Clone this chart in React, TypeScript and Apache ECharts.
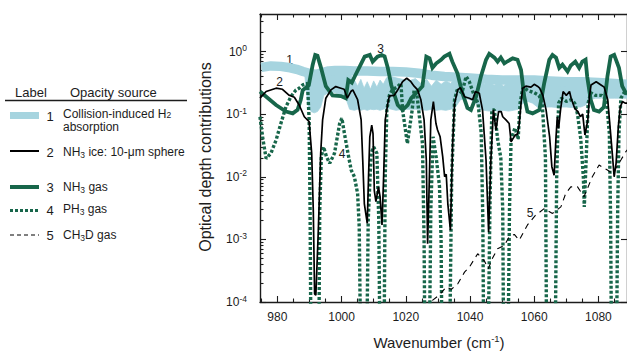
import React, { useEffect, useRef } from "react";
import * as echarts from "echarts";

// ---------- data (wavenumber in cm^-1, optical depth) ----------
const H2_X = [975, 978, 981, 984, 986, 988, 990, 992, 994, 996, 998, 1001, 1004, 1008, 1012, 1016, 1020, 1024, 1028, 1032, 1036, 1040, 1045, 1050, 1055, 1060, 1065, 1070, 1075, 1080, 1085, 1089];
const H2_Y = [0.56, 0.59, 0.58, 0.55, 0.52, 0.48, 0.45, 0.43, 0.46, 0.49, 0.5, 0.5, 0.49, 0.49, 0.48, 0.48, 0.47, 0.45, 0.42, 0.4, 0.39, 0.38, 0.36, 0.35, 0.35, 0.35, 0.34, 0.33, 0.33, 0.32, 0.31, 0.3];

const BAND_X = [988.5, 989.5, 990.5, 991.5, 992.5, 993.5, 994.5, 996, 998, 1000, 1001.5, 1002.5, 1004, 1005, 1006, 1007, 1008, 1009, 1010, 1011, 1012, 1013, 1014, 1015.5, 1017, 1019, 1021, 1023, 1025, 1026.5, 1028, 1029.5, 1031, 1032.5, 1034, 1035.5, 1037, 1038.5, 1040, 1041.5, 1043, 1044.5, 1046, 1047.5, 1049, 1050.5, 1052, 1053.5, 1055, 1056.5, 1058, 1059.5, 1061, 1062.5, 1064, 1065.5, 1067, 1068.5, 1070, 1071.5, 1073, 1074.5, 1076, 1077.5, 1079, 1080.5, 1082, 1083.5, 1085, 1086.5, 1088, 1089];
const BAND_LOW = [0.44, 0.14, 0.11, 0.105, 0.11, 0.13, 0.2, 0.22, 0.22, 0.2, 0.17, 0.12, 0.115, 0.12, 0.115, 0.12, 0.115, 0.12, 0.118, 0.12, 0.115, 0.12, 0.125, 0.12, 0.115, 0.12, 0.12, 0.12, 0.118, 0.115, 0.12, 0.115, 0.118, 0.115, 0.12, 0.13, 0.17, 0.18, 0.17, 0.16, 0.12, 0.115, 0.112, 0.115, 0.11, 0.115, 0.112, 0.115, 0.12, 0.15, 0.16, 0.15, 0.13, 0.13, 0.13, 0.13, 0.128, 0.13, 0.13, 0.128, 0.13, 0.13, 0.14, 0.17, 0.18, 0.18, 0.185, 0.18, 0.18, 0.18, 0.18, 0.18];
const BAND_HIGH = [0.46, 0.44, 0.42, 0.4, 0.42, 0.45, 0.47, 0.5, 0.5, 0.48, 0.47, 0.45, 0.35, 0.28, 0.36, 0.26, 0.33, 0.25, 0.34, 0.27, 0.35, 0.3, 0.38, 0.4, 0.38, 0.36, 0.34, 0.37, 0.3, 0.36, 0.28, 0.35, 0.3, 0.34, 0.31, 0.38, 0.42, 0.38, 0.42, 0.37, 0.35, 0.3, 0.34, 0.29, 0.33, 0.28, 0.34, 0.3, 0.35, 0.37, 0.3, 0.36, 0.31, 0.35, 0.3, 0.34, 0.29, 0.33, 0.3, 0.34, 0.3, 0.33, 0.3, 0.34, 0.31, 0.35, 0.3, 0.33, 0.3, 0.32, 0.3, 0.31];

const NH3ICE_X = [974.6, 976.5, 979.6, 981.6, 983.7, 985.3, 986.8, 988.4, 989.9, 990.7, 991.2, 991.6, 992, 992.8, 993.5, 994.1, 995.1, 996.7, 998.2, 999.8, 1000.8, 1001.8, 1002.9, 1003.5, 1005, 1006.1, 1006.6, 1007.1, 1008, 1008.4, 1008.8, 1009.4, 1009.8, 1010.2, 1010.7, 1011.5, 1012, 1012.6, 1013.1, 1013.6, 1014.4, 1014.9, 1016.4, 1017.5, 1019, 1020.3, 1021.6, 1022.6, 1023.7, 1024.7, 1025.7, 1026.4, 1026.8, 1027.2, 1027.8, 1028.6, 1029.4, 1029.9, 1030.7, 1031.5, 1032.1, 1032.6, 1033.1, 1033.9, 1034.6, 1035.2, 1036.2, 1037, 1038.3, 1039.8, 1040.8, 1041.7, 1042.9, 1043.9, 1045, 1045.8, 1046.5, 1047.3, 1048.1, 1048.9, 1049.7, 1050.2, 1051.2, 1052.2, 1052.8, 1053.3, 1054.1, 1054.8, 1055.3, 1055.9, 1056.4, 1057.4, 1059, 1060, 1061, 1061.7, 1062.7, 1063.7, 1064.8, 1065.5, 1066.2, 1066.8, 1067.2, 1067.6, 1068.2, 1069, 1070, 1071, 1071.5, 1072.6, 1073.6, 1074.4, 1075.1, 1075.8, 1076.7, 1077.2, 1077.7, 1079.3, 1080.8, 1081.8, 1082.9, 1083.7, 1084.4, 1084.9, 1085.5, 1086.2, 1086.8, 1087.5, 1088.3, 1089];
const NH3ICE_Y = [0.18, 0.23, 0.26, 0.25, 0.2, 0.186, 0.14, 0.091, 0.076, 0.0237, 0.0029, 0.000135, 0.000128, 0.00158, 0.0237, 0.081, 0.18, 0.244, 0.276, 0.26, 0.25, 0.18, 0.23, 0.244, 0.17, 0.081, 0.0184, 0.0037, 0.0018, 0.01, 0.0435, 0.067, 0.049, 0.006, 0.004, 0.0069, 0.0048, 0.0017, 0.01, 0.081, 0.149, 0.196, 0.2, 0.244, 0.33, 0.375, 0.33, 0.28, 0.244, 0.17, 0.081, 0.0184, 0.00085, 0.0048, 0.081, 0.159, 0.071, 0.056, 0.0435, 0.021, 0.01, 0.011, 0.0037, 0.0014, 0.034, 0.149, 0.244, 0.266, 0.19, 0.18, 0.17, 0.23, 0.216, 0.117, 0.0184, 0.0013, 0.0184, 0.117, 0.056, 0.11, 0.11, 0.091, 0.081, 0.071, 0.036, 0.04, 0.0465, 0.048, 0.067, 0.149, 0.26, 0.28, 0.27, 0.3, 0.28, 0.26, 0.2, 0.117, 0.0435, 0.0145, 0.0106, 0.0435, 0.091, 0.059, 0.117, 0.23, 0.2, 0.23, 0.18, 0.124, 0.11, 0.091, 0.1, 0.0465, 0.081, 0.19, 0.293, 0.33, 0.293, 0.27, 0.17, 0.056, 0.021, 0.01, 0.0164, 0.063, 0.13, 0.159, 0.15, 0.15];

const NH3GAS_X = [974.6, 979.6, 982.7, 984.8, 986.3, 987.3, 987.9, 989.8, 991, 991.8, 992.5, 993.5, 995.1, 997.2, 999.8, 1001.3, 1002.1, 1003.2, 1004.1, 1007.2, 1008.8, 1009.7, 1011.2, 1012.5, 1013.4, 1014.4, 1015.5, 1017.5, 1019, 1020.6, 1021.7, 1023.7, 1025.2, 1026.4, 1027.4, 1028.3, 1029.5, 1031, 1032, 1033.6, 1034.5, 1036.1, 1037.6, 1039.2, 1040.3, 1041.9, 1043.4, 1045, 1046, 1047.6, 1048.6, 1049.6, 1050.7, 1051.7, 1053.3, 1054.8, 1055.9, 1056.9, 1057.9, 1059.5, 1061.6, 1063.1, 1064.7, 1065.7, 1066.8, 1067.8, 1068.8, 1070.4, 1071.4, 1072.8, 1074, 1075, 1076, 1076.5, 1077.6, 1078.6, 1080.2, 1081.7, 1082.8, 1083.8, 1084.9, 1086.4, 1087.4, 1088.5, 1089];
const NH3GAS_Y = [0.23, 0.14, 0.11, 0.103, 0.117, 0.17, 0.24, 0.29, 0.61, 0.885, 0.86, 0.575, 0.28, 0.2, 0.195, 0.18, 0.35, 0.32, 0.4, 0.83, 0.885, 0.69, 0.83, 0.88, 0.84, 0.55, 0.29, 0.14, 0.117, 0.14, 0.18, 0.23, 0.28, 0.83, 0.78, 0.55, 0.65, 0.74, 0.83, 0.92, 0.69, 0.45, 0.22, 0.126, 0.117, 0.19, 0.4, 0.74, 0.92, 0.8, 0.69, 0.8, 0.65, 0.7, 0.78, 0.74, 0.51, 0.19, 0.11, 0.103, 0.117, 0.31, 0.74, 0.885, 0.8, 0.55, 0.62, 0.48, 0.6, 0.69, 0.55, 0.69, 0.74, 0.4, 0.17, 0.117, 0.11, 0.13, 0.4, 0.83, 0.885, 0.55, 0.28, 0.22, 0.21];

const PH3_X = [974.6, 975.4, 976.5, 978, 979.6, 981.1, 982.7, 984.2, 985.8, 986.8, 987.9, 989.4, 989.9, 990.2, 990.5, 992.9, 993.2, 993.7, 994.4, 995.3, 996.3, 997.8, 999.4, 1000.1, 1000.9, 1002, 1003, 1004, 1005, 1005.5, 1006, 1007.8, 1008.3, 1009.2, 1010, 1011, 1011.6, 1012, 1013.2, 1013.6, 1014.1, 1014.9, 1015.8, 1017.5, 1018.5, 1019, 1020.5, 1022, 1022.6, 1023.5, 1025.2, 1025.7, 1026, 1027.3, 1027.8, 1028.5, 1029.5, 1030.5, 1031, 1031.3, 1033.6, 1034.3, 1035.2, 1036, 1037.5, 1038.8, 1039.8, 1041, 1042.5, 1043.5, 1044, 1044.3, 1045.6, 1046.2, 1046.8, 1047.6, 1048.6, 1049.6, 1050.2, 1050.5, 1051.8, 1052.3, 1052.8, 1054, 1055, 1055.6, 1056.5, 1058, 1060, 1061.5, 1062.5, 1063.5, 1063.9, 1066.5, 1067, 1067.6, 1068.5, 1070, 1071.5, 1072.6, 1073.5, 1074.5, 1075.3, 1075.6, 1076.2, 1076.8, 1077.6, 1079, 1081, 1082.5, 1083.4, 1083.8, 1084.1, 1085.6, 1086, 1086.4, 1087, 1088, 1089];
const PH3_Y = [0.091, 0.0435, 0.0196, 0.0237, 0.0385, 0.071, 0.132, 0.19, 0.244, 0.26, 0.293, 0.31, 0.081, 0.0029, 0.00001, 0.00001, 0.0029, 0.021, 0.03, 0.021, 0.0164, 0.0237, 0.071, 0.086, 0.049, 0.0237, 0.0128, 0.01, 0.0054, 0.0016, 0.00001, 0.00001, 0.002, 0.0237, 0.03, 0.0237, 0.002, 0.00001, 0.00001, 0.01, 0.117, 0.2, 0.244, 0.276, 0.31, 0.117, 0.034, 0.117, 0.244, 0.2, 0.034, 0.001, 0.00001, 0.00001, 0.003, 0.0435, 0.02, 0.007, 0.001, 0.00001, 0.00001, 0.01, 0.17, 0.244, 0.22, 0.4, 0.33, 0.22, 0.15, 0.05, 0.002, 0.00001, 0.00001, 0.003, 0.117, 0.117, 0.04, 0.02, 0.003, 0.00001, 0.00001, 0.003, 0.04, 0.06, 0.04, 0.15, 0.27, 0.24, 0.22, 0.2, 0.15, 0.02, 0.00001, 0.00001, 0.01, 0.15, 0.18, 0.16, 0.17, 0.15, 0.1, 0.04, 0.01, 0.0033, 0.02, 0.15, 0.22, 0.2, 0.2, 0.17, 0.05, 0.002, 0.00001, 0.00001, 0.003, 0.05, 0.18, 0.22, 0.22];

const CH3D_X = [1025.8, 1028.4, 1030.5, 1032.6, 1034.2, 1036.2, 1038.3, 1039.8, 1042.4, 1044.5, 1045.7, 1047, 1048.6, 1050.7, 1052.2, 1053.8, 1055.3, 1057.9, 1060.3, 1063.1, 1065.7, 1068.3, 1069.8, 1071.4, 1073.5, 1075.5, 1078.1, 1080.2, 1082.8, 1084.4, 1087, 1088.5, 1089];
const CH3D_Y = [0.00008, 0.000107, 0.00013, 0.000174, 0.00016, 0.000195, 0.0003, 0.00036, 0.00059, 0.00045, 0.00034, 0.0005, 0.00071, 0.0008, 0.0011, 0.0012, 0.00097, 0.0017, 0.0024, 0.0031, 0.0026, 0.0033, 0.0054, 0.0069, 0.0069, 0.0048, 0.01, 0.0154, 0.0128, 0.0113, 0.0185, 0.025, 0.027];

const X_LABELS = [980, 1000, 1020, 1040, 1060, 1080];
const Y_DECADES = [-4, -3, -2, -1, 0];

// ---------- styling ----------
const FONT = '"Liberation Sans", Arial, Helvetica, sans-serif';
const BLUE = "#a6d4df";
const GREEN = "#17664a";
const INK = "#1c1c1c";
const XMIN = 974.6;
const XMAX = 1088.9;
const YMIN = -4;
const YMAX = 0.6;

const lg = (v: number) => Math.log10(v);
const zip = (xs: number[], ys: number[]) => xs.map((x, i) => [x, lg(ys[i])]);

const minorX: number[] = [];
for (let v = 975; v <= 1085; v += 5) if (X_LABELS.indexOf(v) < 0) minorX.push(v);
const minorY: number[] = [];
for (let n = -4; n <= 0; n++) for (let k = 2; k <= 9; k++) { const t = n + Math.log10(k); if (t < YMAX) minorY.push(t); }

export default function App() {
  const ref = useRef<HTMLDivElement>(null);
  useEffect(() => {
    const chart = echarts.init(ref.current as HTMLDivElement, null, { renderer: "svg" });
    const axisLine = { show: true, onZero: false, lineStyle: { color: INK, width: 1.4 } };
    const noLine = { show: false, onZero: false };
    const tickStyle = { color: INK, width: 1.1 };
    const bandData = BAND_X.map((x, i) => [x, lg(BAND_LOW[i]), lg(BAND_HIGH[i])]);
    const lineBase = { type: "line", symbol: "none", showSymbol: false, clip: true, silent: true, xAxisIndex: 0, yAxisIndex: 0 };

    const sub = (t: string) => `{b|${t}}`;
    const legendText = (x: number, y: number, text: string, lh = 15) => ({
      type: "text", x, y,
      style: {
        text, fill: INK, fontSize: 12, fontFamily: FONT, align: "left", verticalAlign: "middle",
        rich: {
          b: { fontSize: 12, fontFamily: FONT, lineHeight: lh, fill: INK },
          s: { fontSize: 8.5, fontFamily: FONT, lineHeight: 7, verticalAlign: "bottom", fill: INK },
        },
      },
    });
    const numText = (x: number, y: number, t: string, size = 13) => ({
      type: "text", x, y,
      style: { text: t, fill: INK, fontSize: size, fontFamily: FONT, align: "center", verticalAlign: "middle" },
    });

    const option: any = {
      animation: false,
      backgroundColor: "#ffffff",
      textStyle: { fontFamily: FONT },
      grid: { left: 260, top: 14, width: 368, height: 288, containLabel: false },
      xAxis: [
        { type: "value", position: "bottom", min: XMIN, max: XMAX, axisLine,
          axisTick: { show: true, inside: true, length: 6, customValues: X_LABELS, lineStyle: tickStyle },
          axisLabel: { show: true, customValues: X_LABELS, color: INK, fontSize: 12, fontFamily: FONT, margin: 9, formatter: (v: number) => String(Math.round(v)) },
          splitLine: { show: false } },
        { type: "value", position: "bottom", min: XMIN, max: XMAX, axisLine: noLine,
          axisTick: { show: true, inside: true, length: 3.5, customValues: minorX, lineStyle: tickStyle },
          axisLabel: { show: false }, splitLine: { show: false } },
        { type: "value", position: "top", min: XMIN, max: XMAX, axisLine,
          axisTick: { show: true, inside: true, length: 6, customValues: X_LABELS, lineStyle: tickStyle },
          axisLabel: { show: false }, splitLine: { show: false } },
        { type: "value", position: "top", min: XMIN, max: XMAX, axisLine: noLine,
          axisTick: { show: true, inside: true, length: 3.5, customValues: minorX, lineStyle: tickStyle },
          axisLabel: { show: false }, splitLine: { show: false } },
      ],
      yAxis: [
        { type: "value", position: "left", min: YMIN, max: YMAX, axisLine,
          axisTick: { show: true, inside: true, length: 6, customValues: Y_DECADES, lineStyle: tickStyle },
          axisLabel: {
            show: true, customValues: Y_DECADES, margin: 13,
            formatter: (v: number) => `{b|10}{s|${Math.round(v)}}`,
            rich: {
              b: { fontSize: 12, fontFamily: FONT, color: INK, lineHeight: 16 },
              s: { fontSize: 8.5, fontFamily: FONT, color: INK, lineHeight: 8, verticalAlign: "top" },
            },
          },
          splitLine: { show: false } },
        { type: "value", position: "left", min: YMIN, max: YMAX, axisLine: noLine,
          axisTick: { show: true, inside: true, length: 3.5, customValues: minorY, lineStyle: tickStyle },
          axisLabel: { show: false }, splitLine: { show: false } },
        { type: "value", position: "right", min: YMIN, max: YMAX, axisLine,
          axisTick: { show: true, inside: true, length: 6, customValues: Y_DECADES, lineStyle: tickStyle },
          axisLabel: { show: false }, splitLine: { show: false } },
      ],
      series: [
        {
          type: "custom", xAxisIndex: 0, yAxisIndex: 0, silent: true, z: 1,
          data: bandData, encode: { x: 0, y: 1 },
          renderItem: (params: any, api: any) => {
            if (params.dataIndex !== 0) return null;
            const pts: number[][] = [];
            for (let i = 0; i < bandData.length; i++) pts.push(api.coord([bandData[i][0], bandData[i][2]]));
            for (let i = bandData.length - 1; i >= 0; i--) pts.push(api.coord([bandData[i][0], bandData[i][1]]));
            return { type: "polygon", shape: { points: pts }, style: { fill: BLUE, stroke: BLUE, lineWidth: 0.8 } };
          },
        },
        { ...lineBase, name: "H2", data: zip(H2_X, H2_Y), lineStyle: { color: BLUE, width: 9.5 }, z: 2 },
        { ...lineBase, name: "NH3 gas", data: zip(NH3GAS_X, NH3GAS_Y), lineStyle: { color: GREEN, width: 3.8, join: "miter" }, z: 3 },
        { ...lineBase, name: "PH3 gas", data: zip(PH3_X, PH3_Y), lineStyle: { color: GREEN, width: 3.4, type: [3, 2] }, z: 4 },
        { ...lineBase, name: "NH3 ice", data: zip(NH3ICE_X, NH3ICE_Y), lineStyle: { color: "#000000", width: 1.7 }, z: 5 },
        { ...lineBase, name: "CH3D gas", data: zip(CH3D_X, CH3D_Y), lineStyle: { color: "#000000", width: 1.1, type: [6, 5] }, z: 6 },
      ],
      graphic: [
        // axis titles
        { type: "text", x: 205, y: 157, rotation: Math.PI / 2,
          style: { text: "Optical depth contributions", fill: INK, fontSize: 16, fontFamily: FONT, align: "center", verticalAlign: "middle" } },
        { type: "text", x: 439, y: 342,
          style: {
            text: "{b|Wavenumber (cm}{s|-1}{b|)}", fill: INK, fontSize: 15, fontFamily: FONT, align: "center", verticalAlign: "middle",
            rich: {
              b: { fontSize: 15, fontFamily: FONT, lineHeight: 18, fill: INK },
              s: { fontSize: 9.5, fontFamily: FONT, lineHeight: 9, verticalAlign: "top", fill: INK },
            },
          } },
        // curve labels
        numText(289.5, 60, "1", 12),
        numText(279.5, 81.5, "2", 12),
        numText(380.5, 48.5, "3", 12),
        numText(342, 154, "4", 12),
        numText(530, 213, "5", 12),
        // legend table
        { type: "text", x: 15, y: 92, style: { text: "Label", fill: INK, fontSize: 13, fontFamily: FONT, align: "left", verticalAlign: "middle" } },
        { type: "text", x: 70, y: 92, style: { text: "Opacity source", fill: INK, fontSize: 13, fontFamily: FONT, align: "left", verticalAlign: "middle" } },
        { type: "line", shape: { x1: 5, y1: 100.5, x2: 187, y2: 100.5 }, style: { stroke: INK, lineWidth: 1.3 } },
        { type: "rect", shape: { x: 10, y: 112, width: 29, height: 7 }, style: { fill: BLUE } },
        numText(50, 116, "1"),
        legendText(63, 114, sub("Collision-induced H") + "{s|2}", 11),
        legendText(63, 126.5, sub("absorption"), 11),
        { type: "line", shape: { x1: 10, y1: 151, x2: 39, y2: 151 }, style: { stroke: "#000", lineWidth: 2 } },
        numText(50, 152, "2"),
        legendText(63, 152, sub("NH") + "{s|3}" + sub(" ice: 10-\u03bcm sphere")),
        { type: "line", shape: { x1: 10, y1: 187, x2: 39, y2: 187 }, style: { stroke: GREEN, lineWidth: 4 } },
        numText(50, 187.5, "3"),
        legendText(63, 186.5, sub("NH") + "{s|3}" + sub(" gas")),
        { type: "line", shape: { x1: 10, y1: 210.5, x2: 39, y2: 210.5 }, style: { stroke: GREEN, lineWidth: 3, lineDash: [3, 2] } },
        numText(50, 210.5, "4"),
        legendText(63, 209, sub("PH") + "{s|3}" + sub(" gas")),
        { type: "line", shape: { x1: 10, y1: 235, x2: 39, y2: 235 }, style: { stroke: "#000", lineWidth: 1, lineDash: [4, 3] } },
        numText(50, 235, "5"),
        legendText(63, 235, sub("CH") + "{s|3}" + sub("D gas")),
      ],
    };
    chart.setOption(option);
    return () => chart.dispose();
  }, []);
  return <div ref={ref} style={{ position: "fixed", left: 0, top: 0, width: 627, height: 351, background: "#fff" }} />;
}
